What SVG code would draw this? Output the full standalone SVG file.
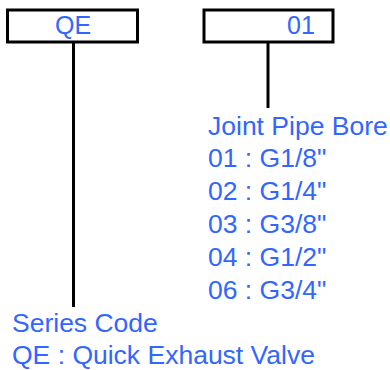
<svg xmlns="http://www.w3.org/2000/svg" width="390" height="370" viewBox="0 0 390 370">
<style>
.box{fill:#fff;stroke:#000;stroke-width:3}
.ln{stroke:#000;stroke-width:3;fill:none}
.t{font-family:"Liberation Sans",Arial,sans-serif;font-size:26.5px;fill:#3366ff}
.b{font-family:"Liberation Sans",Arial,sans-serif;font-size:25px;fill:#3366ff}
</style>
<rect width="390" height="370" fill="#fff"/>
<g id="connectors">
<line class="ln" x1="73.5" y1="42" x2="73.5" y2="307"/>
<line class="ln" x1="268" y1="42" x2="268" y2="108"/>
</g>
<g id="node-qe">
<rect class="box" x="7.5" y="10" width="130" height="32"/>
<text class="b" x="73" y="34" text-anchor="middle">QE</text>
</g>
<g id="node-01">
<rect class="box" x="204" y="10" width="129" height="32"/>
<text class="b" x="301" y="34" text-anchor="middle">01</text>
</g>
<g id="label-bore">
<text class="t" x="208" y="135">Joint Pipe Bore</text>
<text class="t" x="208" y="167">01 : G1/8"</text>
<text class="t" x="208" y="200">02 : G1/4"</text>
<text class="t" x="208" y="233">03 : G3/8"</text>
<text class="t" x="208" y="266">04 : G1/2"</text>
<text class="t" x="208" y="299">06 : G3/4"</text>
</g>
<g id="label-series">
<text class="t" x="12" y="332">Series Code</text>
<text class="t" x="12" y="364">QE : Quick Exhaust Valve</text>
</g>
</svg>
